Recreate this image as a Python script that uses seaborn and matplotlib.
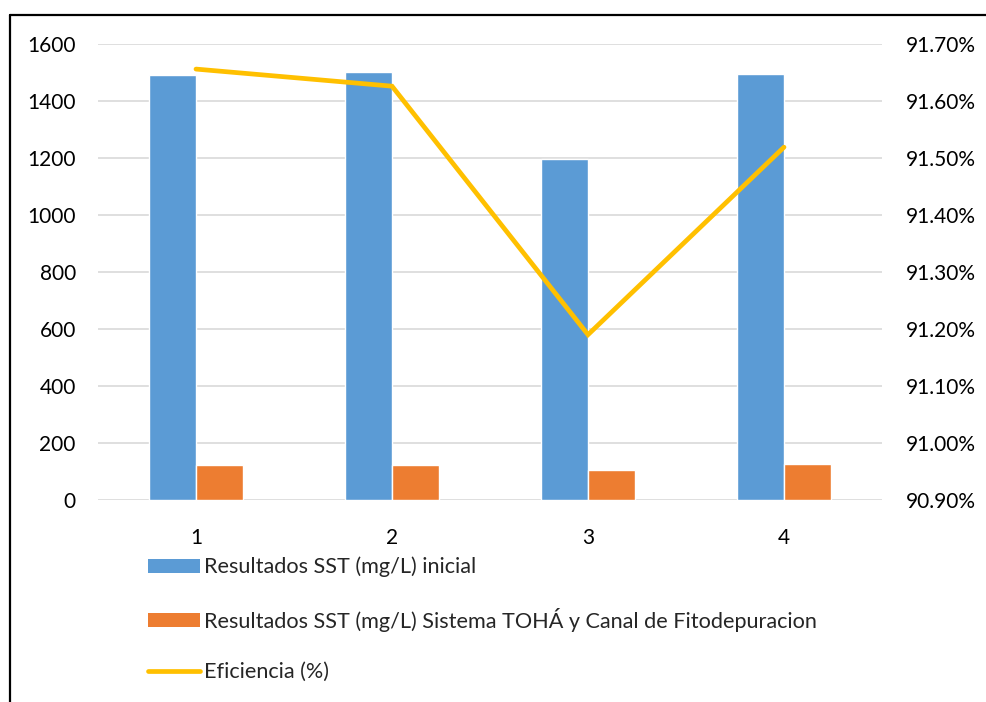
import matplotlib
matplotlib.use("Agg")
import matplotlib.pyplot as plt
import matplotlib.ticker as mticker
from matplotlib.patches import Patch
from matplotlib.lines import Line2D
import seaborn as sns
import pandas as pd

categories = ["1", "2", "3", "4"]
sst_inicial = [1491, 1502, 1196, 1495]
sst_sistema = [123, 123, 105, 126]
eficiencia = [91.656, 91.626, 91.19, 91.519]
y_left_ticks = [0, 200, 400, 600, 800, 1000, 1200, 1400, 1600]
y_right_ticks = [90.9, 91.0, 91.1, 91.2, 91.3, 91.4, 91.5, 91.6, 91.7]

lab1 = "Resultados SST (mg/L) inicial"
lab2 = "Resultados SST (mg/L) Sistema TOHÁ y Canal de Fitodepuracion"
lab3 = "Eficiencia (%)"

blue = "#5B9BD5"
orange = "#ED7D31"
gold = "#FFC000"

sns.set_style("white")
plt.rcParams["font.family"] = ["Lato", "DejaVu Sans"]

df = pd.DataFrame({
    "cat": categories * 2,
    "val": sst_inicial + sst_sistema,
    "serie": [lab1] * 4 + [lab2] * 4,
})

fig = plt.figure(figsize=(9.87, 7.02), dpi=100)
ax = fig.add_axes([98 / 987, 1 - 500 / 702, (882 - 98) / 987, (500 - 44) / 702])

sns.barplot(data=df, x="cat", y="val", hue="serie", order=categories,
            hue_order=[lab1, lab2], palette=[blue, orange], width=0.48,
            gap=0, saturation=1, ax=ax, legend=False, errorbar=None)

ax.set_xlim(-0.5, 3.5)
ax.set_ylim(0, 1600)
ax.set_yticks(y_left_ticks)
ax.yaxis.grid(True, color="#d9d9d9", lw=1.2)
ax.set_axisbelow(True)
for s in ax.spines.values():
    s.set_visible(False)
ax.set_xlabel("")
ax.set_ylabel("")
ax.tick_params(axis="both", length=0, labelsize=15, colors="black")
ax.tick_params(axis="x", pad=20)
ax.tick_params(axis="y", pad=16)

ax2 = ax.twinx()
sns.lineplot(x=[0, 1, 2, 3], y=eficiencia, ax=ax2, color=gold, lw=3.4,
             solid_capstyle="round", solid_joinstyle="miter")
ax2.set_ylim(90.9, 91.7)
ax2.set_yticks(y_right_ticks)
ax2.yaxis.set_major_formatter(mticker.FuncFormatter(lambda v, p: f"{v:.2f}%"))
for s in ax2.spines.values():
    s.set_visible(False)
ax2.tick_params(axis="y", length=0, labelsize=15, pad=17, colors="black")
ax2.set_xlim(-0.5, 3.5)

handles = [
    Patch(facecolor=blue, edgecolor="none"),
    Patch(facecolor=orange, edgecolor="none"),
    Line2D([0], [0], color=gold, lw=3.4, solid_capstyle="round"),
]
fig.legend(handles, [lab1, lab2, lab3], loc="upper left",
           bbox_to_anchor=(139 / 987, 1 - 548 / 702), frameon=False,
           fontsize=15.6, handlelength=2.4, handleheight=0.6,
           handletextpad=0.2, labelspacing=1.4, borderaxespad=0)

# outer frame (top and left edges)
fig.add_artist(Line2D([10 / 987, 1.0], [1 - 15 / 702, 1 - 15 / 702],
                      transform=fig.transFigure, color="black", lw=1.6))
fig.add_artist(Line2D([10 / 987, 10 / 987], [0, 1 - 15 / 702],
                      transform=fig.transFigure, color="black", lw=1.6))

fig.savefig("out.png", dpi=100)
